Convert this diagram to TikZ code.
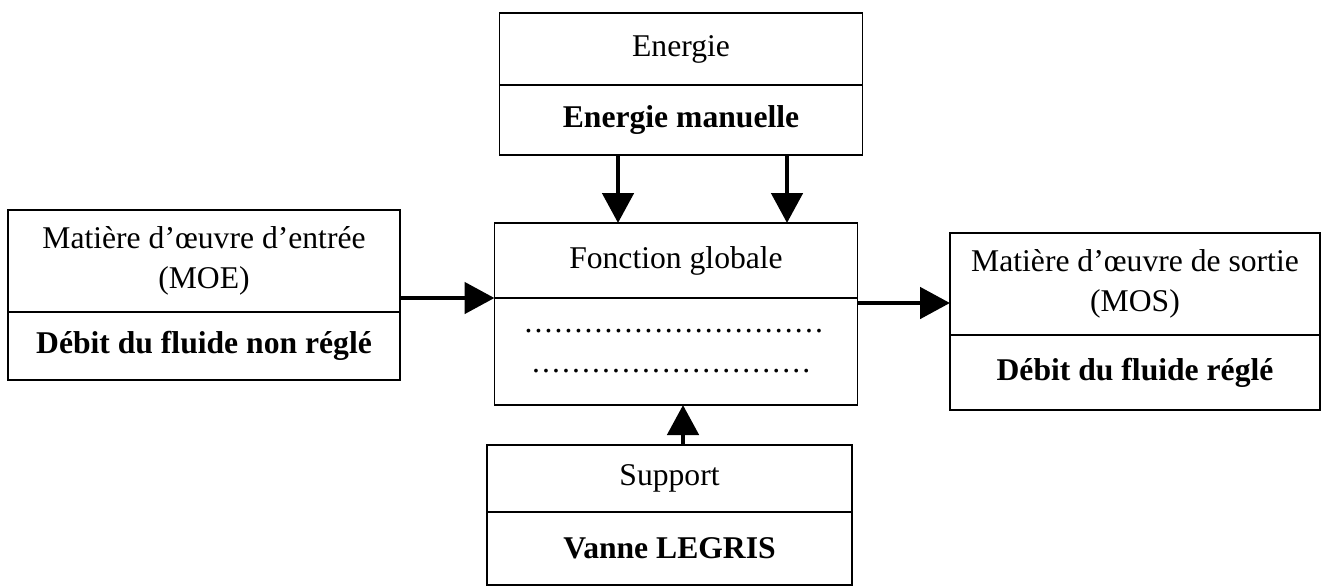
\documentclass[tikz,border=0pt]{standalone}
\usepackage{fontspec}
\setmainfont{Liberation Serif}
\usetikzlibrary{positioning,arrows.meta}

\newcommand{\pointilles}[1]{\makebox[#1]{\leaders\hbox to 5.7pt{\hss.\hss}\hfill}}

\tikzset{
  cell/.style={draw, line width=1pt, inner sep=0pt, outer sep=0pt, align=center,
    font=\fontsize{18}{22.8}\selectfont},
  fleche/.style={line width=2.8pt, -{Triangle[width=0.62cm,length=0.6cm]}}
}

\begin{document}
\begin{tikzpicture}

  % Cadre
  \useasboundingbox (0,0) rectangle (26.54,-11.74);

  % Energie
  \node[cell, minimum width=7.26cm, minimum height=1.44cm] (energie) at (13.62,-0.98) {Energie};
  \node[cell, minimum width=7.26cm, minimum height=1.40cm, below=0pt of energie] (energieval) {\textbf{Energie manuelle}};

  % Fonction globale
  \node[cell, minimum width=7.26cm, minimum height=1.50cm] (fonction) at (13.52,-5.21) {Fonction globale};
  \node[cell, minimum width=7.26cm, minimum height=2.14cm, below=0pt of fonction] (fonctionval) {\pointilles{6.1cm}\\ \pointilles{5.8cm}};

  % Matiere d'oeuvre d'entree
  \node[cell, minimum width=7.84cm, minimum height=2.04cm] (moe) at (4.08,-5.22) {Matière d’œuvre d’entrée\\(MOE)};
  \node[cell, minimum width=7.84cm, minimum height=1.36cm, below=0pt of moe] (moeval) {\textbf{Débit du fluide non réglé}};

  % Matiere d'oeuvre de sortie
  \node[cell, minimum width=7.40cm, minimum height=2.04cm] (mos) at (22.70,-5.68) {Matière d’œuvre de sortie\\(MOS)};
  \node[cell, minimum width=7.40cm, minimum height=1.50cm, below=0pt of mos] (mosval) {\textbf{Débit du fluide réglé}};

  % Support
  \node[cell, minimum width=7.30cm, minimum height=1.34cm] (support) at (13.39,-9.57) {Support};
  \node[cell, minimum width=7.30cm, minimum height=1.46cm, below=0pt of support] (supportval) {\textbf{Vanne LEGRIS}};

  % Fleches
  \draw[fleche] ([xshift=-1.26cm]energieval.south) -- ([xshift=-1.26cm]energieval.south |- fonction.north);
  \draw[fleche] ([xshift=2.12cm]energieval.south) -- ([xshift=2.12cm]energieval.south |- fonction.north);
  \draw[fleche] (moe.east |- fonction.south west) -- (fonction.south west);
  \draw[fleche] ([yshift=-0.1cm]fonction.south east) -- ([yshift=-0.1cm]fonction.south east -| mos.west);
  \draw[fleche] ([xshift=0.27cm]support.north) -- ([xshift=0.27cm]support.north |- fonctionval.south);

\end{tikzpicture}
\end{document}
